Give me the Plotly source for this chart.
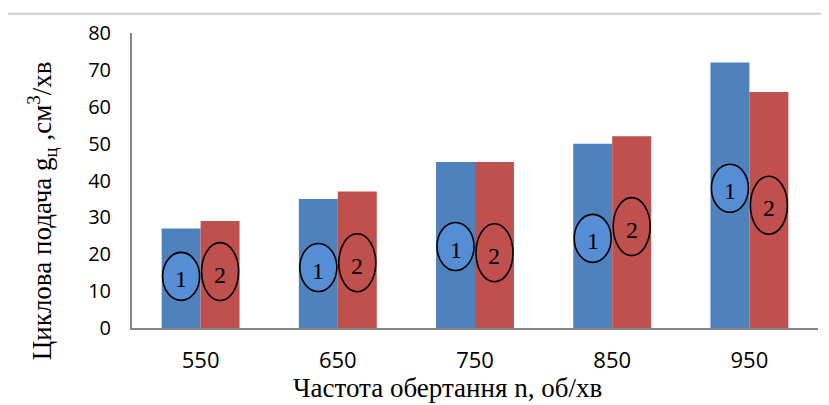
import plotly.graph_objects as go

categories = ["550", "650", "750", "850", "950"]
series1 = [27, 35, 45, 50, 72]
series2 = [29, 37, 45, 52, 64]
label1_y = [14.0, 16.4, 22.1, 24.3, 37.9]
label2_y = [15.3, 17.7, 20.4, 27.5, 33.3]
yticks = [0, 10, 20, 30, 40, 50, 60, 70, 80]

BLUE = "#4F81BD"
RED = "#C0504D"
bargap = 0.432
off = (1 - bargap) / 4

fig = go.Figure()
fig.add_trace(go.Bar(x=categories, y=series1, marker=dict(color=BLUE, line=dict(width=0)), name="1"))
fig.add_trace(go.Bar(x=categories, y=series2, marker=dict(color=RED, line=dict(width=0)), name="2"))

shapes = []
annotations = []
for i in range(len(categories)):
    for dx, yv, txt, fill, h in [(-off, label1_y[i], "1", "#558ED5", 48),
                                 (off, label2_y[i], "2", "rgba(0,0,0,0)", 58)]:
        shapes.append(dict(type="circle", xref="x", yref="y",
                           xsizemode="pixel", ysizemode="pixel",
                           xanchor=i + dx, yanchor=yv,
                           x0=-18.5, x1=18.5, y0=-h / 2, y1=h / 2,
                           fillcolor=fill, line=dict(color="black", width=1.6),
                           layer="above"))
        annotations.append(dict(x=i + dx, y=yv, xref="x", yref="y", text=txt,
                                showarrow=False, yshift=-3,
                                font=dict(family="Liberation Serif", size=24, color="black")))

# top border line
shapes.append(dict(type="line", xref="paper", yref="paper", x0=-0.188, x1=1.02,
                   y0=1.065, y1=1.065, line=dict(color="#D0D0D0", width=2)))

annotations.append(dict(text="Частота обертання n, об/хв", xref="paper", yref="paper",
                        x=(447 - 132) / 686, y=-0.205, xanchor="center", yanchor="middle",
                        showarrow=False,
                        font=dict(family="Liberation Serif", size=27, color="black")))
annotations.append(dict(text="Циклова подача g<sub>ц</sub> ,см<sup>3</sup>/хв", xref="paper", yref="paper",
                        x=(42 - 132) / 686, y=(328 - 210) / 298, xanchor="center", yanchor="middle",
                        textangle=-90, showarrow=False,
                        font=dict(family="Liberation Serif", size=27, color="black")))

# page body has an 8px default margin, so the figure is offset by 8px
fig.update_layout(
    width=821, height=397,
    margin=dict(l=124, r=11, t=22, b=77),
    paper_bgcolor="white", plot_bgcolor="white",
    barmode="group", bargap=bargap, bargroupgap=0,
    showlegend=False,
    shapes=shapes, annotations=annotations,
    xaxis=dict(showline=True, linecolor="#868686", linewidth=2, showgrid=False,
               ticks="", ticklabelstandoff=12,
               tickfont=dict(family="Open Sans", size=22, color="black")),
    yaxis=dict(range=[0, 80], tickvals=yticks, showline=True, linecolor="#868686", linewidth=2,
               showgrid=False, zeroline=False, ticks="", ticklabelstandoff=15,
               tickfont=dict(family="Open Sans", size=20, color="black")),
)

fig.write_html("out.html")
